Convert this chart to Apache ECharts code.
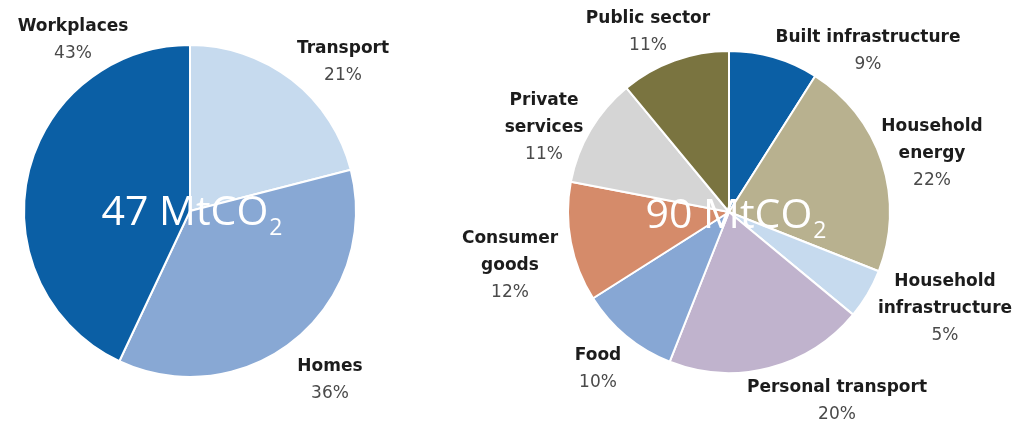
<!DOCTYPE html>
<html>
<head>
<meta charset="utf-8">
<script src="https://cdn.jsdelivr.net/npm/echarts@6/dist/echarts.min.js"></script>
<style>
  html, body { margin: 0; padding: 0; background: #fff; }
  #chart { width: 1019px; height: 425px; }
</style>
</head>
<body>
<div id="chart"></div>
<script>
// Emissions split, left pie (47 MtCO2)
const leftCategories = ['Transport', 'Homes', 'Workplaces'];
const leftValues = [21, 36, 43];
const leftTotal = '47';

// Emissions split, right pie (90 MtCO2)
const rightCategories = [
  'Built infrastructure', 'Household\nenergy', 'Household\ninfrastructure',
  'Personal transport', 'Food', 'Consumer\ngoods', 'Private\nservices', 'Public sector'
];
const rightValues = [9, 22, 5, 20, 10, 12, 11, 11];
const rightTotal = '90';

const leftColors = ['#c6daee', '#88a8d4', '#0b5fa5'];
const rightColors = ['#0b5fa5', '#b8b18f', '#c6daee', '#c0b3cd', '#87a7d4', '#d58b6a', '#d5d5d5', '#7a7440'];

// label block centres (px)
const labelAnchors = [
  [[343, 62], [330, 380], [73, 40]],
  [[868, 51], [932, 154], [945, 309], [837, 401], [598, 369], [510, 266], [544, 128], [648, 32]]
];

const FONT = 'DejaVu Sans';

function labelText(p) {
  const lines = p.name.split('\n').map(s => '{n|' + s + '}');
  lines.push('{p|' + p.value + '%}');
  return lines.join('\n');
}

function pieSeries(cats, vals, colors, center, radius) {
  return {
    type: 'pie',
    center: center,
    radius: radius,
    startAngle: 90,
    clockwise: true,
    avoidLabelOverlap: false,
    silent: true,
    animation: false,
    itemStyle: { borderColor: '#ffffff', borderWidth: 2 },
    labelLine: { show: false },
    label: {
      show: true,
      position: 'outside',
      formatter: labelText,
      align: 'center',
      rich: {
        n: { fontFamily: FONT, fontWeight: 'bold', fontSize: 17, lineHeight: 27, color: '#1c1c1c', align: 'center' },
        p: { fontFamily: FONT, fontSize: 17, lineHeight: 27, color: '#4a4a4a', align: 'center' }
      }
    },
    labelLayout: function (params) {
      const a = labelAnchors[params.seriesIndex][params.dataIndex];
      return { x: a[0], y: a[1], align: 'center', verticalAlign: 'middle' };
    },
    data: cats.map((c, i) => ({ name: c, value: vals[i], itemStyle: { color: colors[i] } }))
  };
}

// total emissions written across the middle of each pie
function totalText(total, x, y) {
  return {
    type: 'text',
    x: x,
    y: y,
    z: 100,
    zlevel: 1,
    silent: true,
    style: {
      text: '{a|' + total + ' MtCO}{b|2}',
      align: 'center',
      verticalAlign: 'middle',
      rich: {
        a: { fontFamily: 'Open Sans', fontSize: 41, fill: '#ffffff', lineHeight: 50 },
        b: { fontFamily: 'Open Sans', fontSize: 23, fill: '#ffffff', lineHeight: 50, padding: [30, 0, 0, 1] }
      }
    }
  };
}

const chart = echarts.init(document.getElementById('chart'), null, { renderer: 'canvas' });
chart.setOption({
  backgroundColor: '#ffffff',
  animation: false,
  series: [
    pieSeries(leftCategories, leftValues, leftColors, [190, 211], 166),
    pieSeries(rightCategories, rightValues, rightColors, [729, 212], 161)
  ],
  graphic: [
    totalText(leftTotal, 192, 213),
    totalText(rightTotal, 736, 216)
  ]
});
</script>
</body>
</html>
